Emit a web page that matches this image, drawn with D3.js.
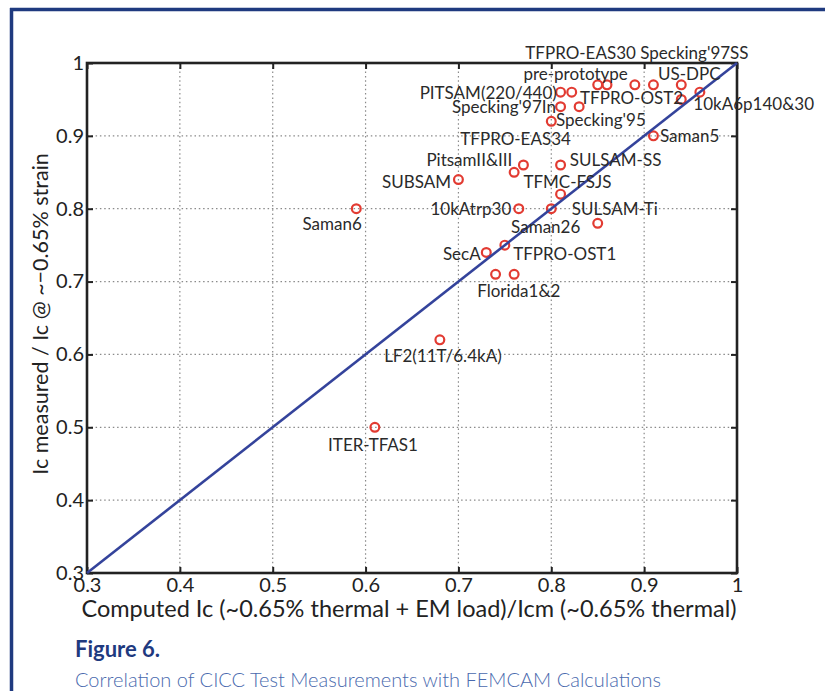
<!DOCTYPE html>
<html>
<head>
<meta charset="utf-8">
<script src="https://cdn.jsdelivr.net/npm/d3@7/dist/d3.min.js"></script>
<style>
  html, body { margin: 0; padding: 0; background: #fff; }
  svg { display: block; }
  text { font-family: Lato, "Noto Sans", sans-serif; }
</style>
</head>
<body>
<svg id="chart" width="825" height="691"></svg>
<script>
// Measured vs computed critical-current ratios for CICC samples
const computedIc = [0.61, 0.68, 0.59, 0.70, 0.765, 0.77, 0.76, 0.81, 0.81, 0.80, 0.85,
                    0.73, 0.75, 0.74, 0.76, 0.91, 0.80, 0.81, 0.83, 0.81, 0.822,
                    0.85, 0.86, 0.89, 0.91, 0.94, 0.94, 0.96];
const measuredIc = [0.50, 0.62, 0.80, 0.84, 0.80, 0.86, 0.85, 0.86, 0.82, 0.80, 0.78,
                    0.74, 0.75, 0.71, 0.71, 0.90, 0.92, 0.94, 0.94, 0.96, 0.96,
                    0.97, 0.97, 0.97, 0.97, 0.97, 0.95, 0.96];

// Sample names, placed at data coordinates (x, y) with their alignment
const labelText = ["ITER-TFAS1", "LF2(11T/6.4kA)", "Saman6", "SUBSAM", "10kAtrp30",
                   "PitsamII&III", "TFMC-FSJS", "SULSAM-SS", "SULSAM-Ti", "Saman26",
                   "SecA", "TFPRO-OST1", "Florida1&2", "Saman5", "Specking'95",
                   "TFPRO-EAS34", "Specking'97In", "PITSAM(220/440)", "TFPRO-OST2",
                   "10kA6p140&30", "pre-prototype", "US-DPC", "TFPRO-EAS30 Specking'97SS"];
const labelX = [0.608, 0.620, 0.564, 0.692, 0.757, 0.758, 0.770, 0.820, 0.822, 0.794,
                0.724, 0.759, 0.765, 0.917, 0.805, 0.702, 0.805, 0.806, 0.831, 0.953,
                0.770, 0.915, 0.772];
const labelY = [0.477, 0.598, 0.780, 0.837, 0.800, 0.867, 0.838, 0.867, 0.800, 0.776,
                0.738, 0.739, 0.688, 0.900, 0.922, 0.897, 0.940, 0.959, 0.952, 0.945,
                0.986, 0.986, 1.014];
const labelAlign = ["middle", "start", "middle", "end", "end", "end", "start", "start",
                    "start", "middle", "end", "start", "middle", "start", "start",
                    "start", "end", "end", "start", "start", "start", "start", "start"];

const tickValues = [0.3, 0.4, 0.5, 0.6, 0.7, 0.8, 0.9, 1];
const tickLabels = ["0.3", "0.4", "0.5", "0.6", "0.7", "0.8", "0.9", "1"];

const xTitle = "Computed Ic (~0.65% thermal + EM load)/Icm (~0.65% thermal)";
const yTitle = "Ic measured / Ic @ ~\u22120.65% strain";
const figTitle = "Figure 6.";
const figCaption = "Correlation of CICC Test Measurements with FEMCAM Calculations";

const svg = d3.select("#chart");
const m = { left: 87, right: 737, top: 63, bottom: 573 };

const x = d3.scaleLinear().domain([0.3, 1]).range([m.left, m.right]);
const y = d3.scaleLinear().domain([0.3, 1]).range([m.bottom, m.top]);

// page frame (left and top rules)
const frameColor = "#1f3a7f";
svg.append("line").attr("x1", 11.5).attr("x2", 11.5).attr("y1", 8).attr("y2", 691)
  .attr("stroke", frameColor).attr("stroke-width", 3.5);
svg.append("line").attr("x1", 10).attr("x2", 825).attr("y1", 9.5).attr("y2", 9.5)
  .attr("stroke", frameColor).attr("stroke-width", 3.5);

// dotted grid
const grid = svg.append("g").attr("stroke", "#8a8a8a").attr("stroke-width", 1.2)
  .attr("stroke-dasharray", "1.5,2.8");
grid.selectAll("line.gx").data(tickValues.slice(1, -1)).join("line")
  .attr("x1", d => x(d)).attr("x2", d => x(d)).attr("y1", m.top).attr("y2", m.bottom);
grid.selectAll("line.gy").data(tickValues.slice(1, -1)).join("line")
  .attr("y1", d => y(d)).attr("y2", d => y(d)).attr("x1", m.left).attr("x2", m.right);

// axes with inward ticks on all sides
const fmt = (d) => tickLabels[tickValues.indexOf(d)];
function styleAxis(g) {
  g.select(".domain").remove();
  g.selectAll(".tick line").attr("stroke", "#222").attr("stroke-width", 2);
  g.selectAll(".tick text").attr("fill", "#222").style("font-size", "20px")
    .style("font-family", "Lato, 'Noto Sans', sans-serif");
}
svg.append("g").attr("transform", `translate(0,${m.bottom})`)
  .call(d3.axisBottom(x).tickValues(tickValues).tickFormat(fmt).tickSizeInner(-6).tickSizeOuter(0).tickPadding(5))
  .call(styleAxis);
svg.append("g").attr("transform", `translate(${m.left},0)`)
  .call(d3.axisLeft(y).tickValues(tickValues).tickFormat(fmt).tickSizeInner(-6).tickSizeOuter(0).tickPadding(3))
  .call(styleAxis);
svg.append("g").attr("transform", `translate(0,${m.top})`)
  .call(d3.axisTop(x).tickValues(tickValues).tickFormat("").tickSizeInner(-6).tickSizeOuter(0))
  .call(styleAxis);
svg.append("g").attr("transform", `translate(${m.right},0)`)
  .call(d3.axisRight(y).tickValues(tickValues).tickFormat("").tickSizeInner(-6).tickSizeOuter(0))
  .call(styleAxis);

// plot box
svg.append("rect").attr("x", m.left).attr("y", m.top)
  .attr("width", m.right - m.left).attr("height", m.bottom - m.top)
  .attr("fill", "none").attr("stroke", "#222").attr("stroke-width", 2.6);

// sample markers
svg.append("g").selectAll("circle").data(computedIc).join("circle")
  .attr("cx", d => x(d)).attr("cy", (d, i) => y(measuredIc[i])).attr("r", 4.4)
  .attr("fill", "none").attr("stroke", "#e23b32").attr("stroke-width", 2.2);

// 1:1 reference line
svg.append("line").attr("x1", x(0.3)).attr("y1", y(0.3)).attr("x2", x(1)).attr("y2", y(1))
  .attr("stroke", "#34439b").attr("stroke-width", 2.6);

// sample labels
svg.append("g").selectAll("text").data(labelText).join("text")
  .attr("x", (d, i) => x(labelX[i])).attr("y", (d, i) => y(labelY[i]))
  .attr("text-anchor", (d, i) => labelAlign[i]).attr("dominant-baseline", "central")
  .attr("fill", "#2a2a2a").style("font-size", "17px").text(d => d);

// axis titles
svg.append("text").attr("x", (m.left + m.right) / 2 - 3).attr("y", 608)
  .attr("text-anchor", "middle").attr("dominant-baseline", "central")
  .attr("fill", "#222").style("font-size", "23.5px").text(xTitle);
svg.append("text").attr("transform", `translate(40,${(m.top + m.bottom) / 2 - 4}) rotate(-90)`)
  .attr("text-anchor", "middle").attr("dominant-baseline", "central")
  .attr("fill", "#222").style("font-size", "21.5px").text(yTitle);

// figure caption
svg.append("text").attr("x", 75).attr("y", 648).attr("dominant-baseline", "central")
  .attr("fill", "#1f3a7f").style("font-size", "22px").style("font-weight", "bold").text(figTitle);
svg.append("text").attr("x", 75).attr("y", 679).attr("dominant-baseline", "central")
  .attr("fill", "#4a6aae").style("font-size", "20px").style("font-weight", "300").text(figCaption);
</script>
</body>
</html>
